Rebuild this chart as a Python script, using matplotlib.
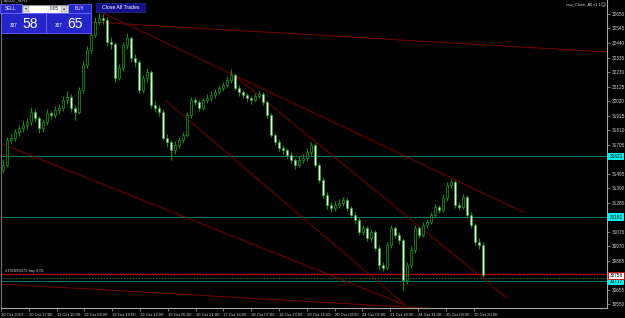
import numpy as np
import matplotlib
matplotlib.use("Agg")
import matplotlib.pyplot as plt
from matplotlib.patches import Rectangle
from matplotlib.transforms import blended_transform_factory

plt.rcParams['font.family'] = ['Liberation Sans', 'DejaVu Sans']

# H1-ish candles, open of each bar = previous close
first_open = 31520
closes = [31558, 31739, 31753, 31797, 31826, 31847, 31869, 31941, 31898, 31826,
          31869, 31934, 31920, 31956, 31970, 32028, 32050, 31970, 31941, 32100,
          32281, 32390, 32498, 32592, 32621, 32606, 32447, 32430, 32187, 32259,
          32426, 32476, 32332, 32303, 32100, 32187, 32230, 31992, 31970, 31941,
          31753, 31724, 31666, 31703, 31739, 31775, 31920, 32028, 32014, 31970,
          32028, 32042, 32064, 32086, 32115, 32136, 32173, 32209, 32115, 32086,
          32064, 32042, 32028, 32057, 32071, 32014, 31920, 31775, 31724, 31681,
          31666, 31630, 31594, 31558, 31594, 31609, 31652, 31703, 31558, 31450,
          31341, 31269, 31247, 31269, 31283, 31305, 31247, 31197, 31161, 31074,
          31103, 31030, 31074, 30958, 30835, 30813, 30980, 31103, 31052, 31016,
          30727, 30835, 30944, 31103, 31052, 31124, 31146, 31197, 31254, 31233,
          31319, 31413, 31435, 31269, 31254, 31327, 31197, 31124, 31001, 30980,
          30763]
highs = [31600, 31760, 31790, 31820, 31850, 31880, 31900, 31975, 31960, 31910,
         31890, 31965, 31950, 31985, 32000, 32060, 32090, 32070, 31990, 32120,
         32310, 32420, 32520, 32630, 32660, 32650, 32625, 32480, 32445, 32290,
         32450, 32510, 32490, 32360, 32320, 32210, 32260, 32245, 32020, 31990,
         31960, 31780, 31740, 31730, 31760, 31800, 31940, 32050, 32050, 32030,
         32045, 32070, 32090, 32110, 32140, 32160, 32200, 32250, 32225, 32135,
         32100, 32080, 32060, 32080, 32095, 32085, 32030, 31935, 31790, 31745,
         31700, 31680, 31650, 31610, 31620, 31640, 31680, 31725, 31715, 31575,
         31470, 31360, 31290, 31295, 31310, 31330, 31320, 31265, 31215, 31180,
         31125, 31120, 31095, 31090, 30975, 30860, 31000, 31125, 31120, 31070,
         31030, 30860, 30970, 31125, 31120, 31145, 31170, 31220, 31275, 31270,
         31345, 31435, 31460, 31450, 31290, 31350, 31340, 31215, 31140, 31030,
         31000]
lows = [31500, 31540, 31710, 31730, 31770, 31800, 31820, 31850, 31870, 31790,
        31800, 31850, 31890, 31900, 31930, 31950, 32000, 31940, 31880, 31930,
        32080, 32260, 32370, 32480, 32570, 32580, 32420, 32400, 32160, 32170,
        32240, 32400, 32300, 32270, 32080, 32080, 32160, 31970, 31940, 31910,
        31740, 31690, 31594, 31640, 31680, 31720, 31760, 31900, 31990, 31950,
        31955, 32005, 32020, 32040, 32070, 32095, 32120, 32150, 32100, 32060,
        32040, 32020, 32000, 32010, 32040, 31990, 31900, 31760, 31700, 31660,
        31640, 31610, 31570, 31530, 31540, 31575, 31590, 31630, 31540, 31430,
        31320, 31240, 31220, 31225, 31250, 31265, 31225, 31175, 31130, 31050,
        31050, 31010, 31010, 30935, 30800, 30790, 30800, 30960, 31030, 30990,
        30654, 30700, 30815, 30925, 31030, 31035, 31105, 31130, 31180, 31210,
        31215, 31300, 31395, 31250, 31235, 31240, 31180, 31100, 30980, 30950,
        30750]

time_labels = ["10 Oct 2013", "10 Oct 17:00", "11 Oct 10:00", "12 Oct 03:00",
               "12 Oct 19:00", "13 Oct 12:00", "16 Oct 05:00", "16 Oct 21:00",
               "17 Oct 14:00", "18 Oct 07:00", "18 Oct 23:00", "19 Oct 16:00",
               "20 Oct 09:00", "21 Oct 02:00", "21 Oct 18:00", "24 Oct 11:00",
               "25 Oct 04:00", "25 Oct 20:00"]
price_ticks = [30550, 30655, 30760, 30865, 30970, 31075, 31180, 31285, 31390,
               31495, 31600, 31705, 31810, 31915, 32020, 32125, 32230, 32335,
               32440, 32545, 32650]

hline_levels = [31621, 31181, 30717]      # teal lines with cyan price tags
order_price = 30768
order_text = "#191698373 buy 0.05"
tp_price = 30743
bid_price = 30758

# trend lines: (bar0, price0, bar1, price1)
trend_lines = [(22.2, 32592, 151.0, 32375),
               (25.0, 32657, 130.0, 31218),
               (56.8, 32230, 126.0, 30596),
               (40.5, 32028, 100.5, 30546),
               (-0.8, 31717, 100.5, 30546),
               (-0.8, 30698, 109.3, 30517)]

W, H = 625, 318
fig = plt.figure(figsize=(W / 100, H / 100), dpi=100, facecolor="black")
ax = fig.add_axes([1 / W, 10 / H, 606 / W, 308 / H], facecolor="black")
ax.set_xlim(-0.5, 151.0)
ax.set_ylim(30524, 32751)

axis_col = "#a8a8a8"
text_col = "#d0d0d0"

# horizontal levels
for lv in hline_levels:
    ax.axhline(lv, color="#0d6e6e", lw=0.8, zorder=1)
ax.axhline(order_price, color="#b30000", lw=0.9, zorder=1)
ax.axhline(tp_price, color="#1d7a1d", lw=0.7, ls=(0, (1.5, 1.5)), zorder=1)

for x0, p0, x1, p1 in trend_lines:
    ax.plot([x0, x1], [p0, p1], color="#7a0000", lw=0.7, zorder=1)

# candles
c = np.array(closes, dtype=float)
o = np.array([first_open] + closes[:-1], dtype=float)
hi = np.array(highs, dtype=float)
lo = np.array(lows, dtype=float)
idx = np.arange(len(c))
ax.vlines(idx, lo, hi, color="#108c10", lw=0.8, zorder=2)
bull = c >= o
ax.bar(idx[bull], c[bull] - o[bull], bottom=o[bull], width=0.45,
       color="black", edgecolor="#18a018", lw=0.5, zorder=3)
ax.bar(idx[~bull], o[~bull] - c[~bull], bottom=c[~bull], width=0.45,
       color="#d6f7d6", edgecolor="#2aa02a", lw=0.4, zorder=3)

ax.text(0.5, order_price + 12, order_text, fontsize=2.9, color=text_col,
        va="bottom", ha="left", zorder=4)

# axes styling
ax.spines["top"].set_visible(False)
for s in ["left", "right", "bottom"]:
    ax.spines[s].set_color(axis_col)
    ax.spines[s].set_linewidth(0.8)
ax.spines["left"].set_color("#707070")

# scale labels hidden behind the price tags are left blank
tagged = hline_levels + [bid_price]
ylabels = ["" if min(abs(p - t) for t in tagged) < 40 else str(p)
           for p in price_ticks]
ax.yaxis.tick_right()
ax.set_yticks(price_ticks)
ax.set_yticklabels(ylabels)
ax.tick_params(axis="y", colors=axis_col, labelcolor=text_col, labelsize=3.4,
               length=2, width=0.5, pad=1.5)

tick_px = [1 + 27.8 * i for i in range(len(time_labels))]
ax.set_xticks([(p - 3) / 4 for p in tick_px])
ax.set_xticklabels(time_labels, ha="left")
ax.tick_params(axis="x", colors=axis_col, labelcolor=text_col, labelsize=3.0,
               length=2, width=0.5, pad=1.5)

# price tags on the right scale
tr = blended_transform_factory(ax.transAxes, ax.transData)
for lv in hline_levels:
    ax.text(1.004, lv, str(lv), transform=tr, fontsize=3.4, color="black",
            va="center", ha="left", zorder=6, clip_on=False,
            bbox=dict(boxstyle="square,pad=0.25", fc="#00f0f0", ec="none"))
ax.text(1.004, bid_price, str(bid_price), transform=tr, fontsize=3.4,
        color="black", va="center", ha="left", zorder=6, clip_on=False,
        bbox=dict(boxstyle="square,pad=0.25", fc="white", ec="#d00000", lw=0.6))

# overlay for terminal widgets, pixel coordinates
ui = fig.add_axes([0, 0, 1, 1], facecolor="none")
ui.set_xlim(0, W)
ui.set_ylim(H, 0)
ui.axis("off")

ui.text(3, 1.2, "Jap225_m,H1", fontsize=3, color=text_col, va="center", ha="left")
ui.text(566, 4, "rsw_Close_All v1.1", fontsize=3, color=text_col,
        va="center", ha="left")
ui.text(603, 4, "\u263a", fontsize=3.5, color=text_col, va="center",
        ha="center", family=["DejaVu Sans"])

blue = "#2525cc"
edge = "#6a6aff"
ui.add_patch(Rectangle((0, 4), 22, 9, fc=blue, ec=edge, lw=0.5))
ui.add_patch(Rectangle((68, 4), 23, 9, fc=blue, ec=edge, lw=0.5))
ui.add_patch(Rectangle((22, 4.5), 46, 8, fc="white", ec="#9090a0", lw=0.4))
ui.add_patch(Rectangle((23, 5.5), 6, 6, fc="#d8d8e0", ec="#8080a0", lw=0.3))
ui.add_patch(Rectangle((61, 5.5), 6, 6, fc="#d8d8e0", ec="#8080a0", lw=0.3))
ui.text(26, 8.5, "\u25be", fontsize=3, color="#303030", ha="center", va="center",
        family=["DejaVu Sans"])
ui.text(64, 8.5, "\u25b4", fontsize=3, color="#303030", ha="center", va="center",
        family=["DejaVu Sans"])
ui.text(59, 8.7, "0.05", fontsize=3.4, color="#202020", ha="right", va="center")
ui.text(11, 8.7, "SELL", fontsize=3.4, color="white", ha="center", va="center")
ui.text(79, 8.7, "BUY", fontsize=3.4, color="white", ha="center", va="center")

ui.add_patch(Rectangle((0.5, 13), 45, 20, fc=blue, ec=edge, lw=0.6))
ui.add_patch(Rectangle((45.5, 13), 45, 20, fc=blue, ec=edge, lw=0.6))
ui.text(18, 25.5, "307", fontsize=3.3, color="white", ha="right", va="center")
ui.text(22, 24.5, "58", fontsize=10, color="white", ha="left", va="center")
ui.text(63, 25.5, "307", fontsize=3.3, color="white", ha="right", va="center")
ui.text(67, 24.5, "65", fontsize=10, color="white", ha="left", va="center")

ui.add_patch(Rectangle((96, 3), 49, 8.5, fc="#12128a", ec="#3030a0", lw=0.4))
ui.text(120.5, 7.3, "Close All Trades", fontsize=3.7, color="white",
        ha="center", va="center")

fig.savefig("out.png", dpi=100, facecolor="black")
